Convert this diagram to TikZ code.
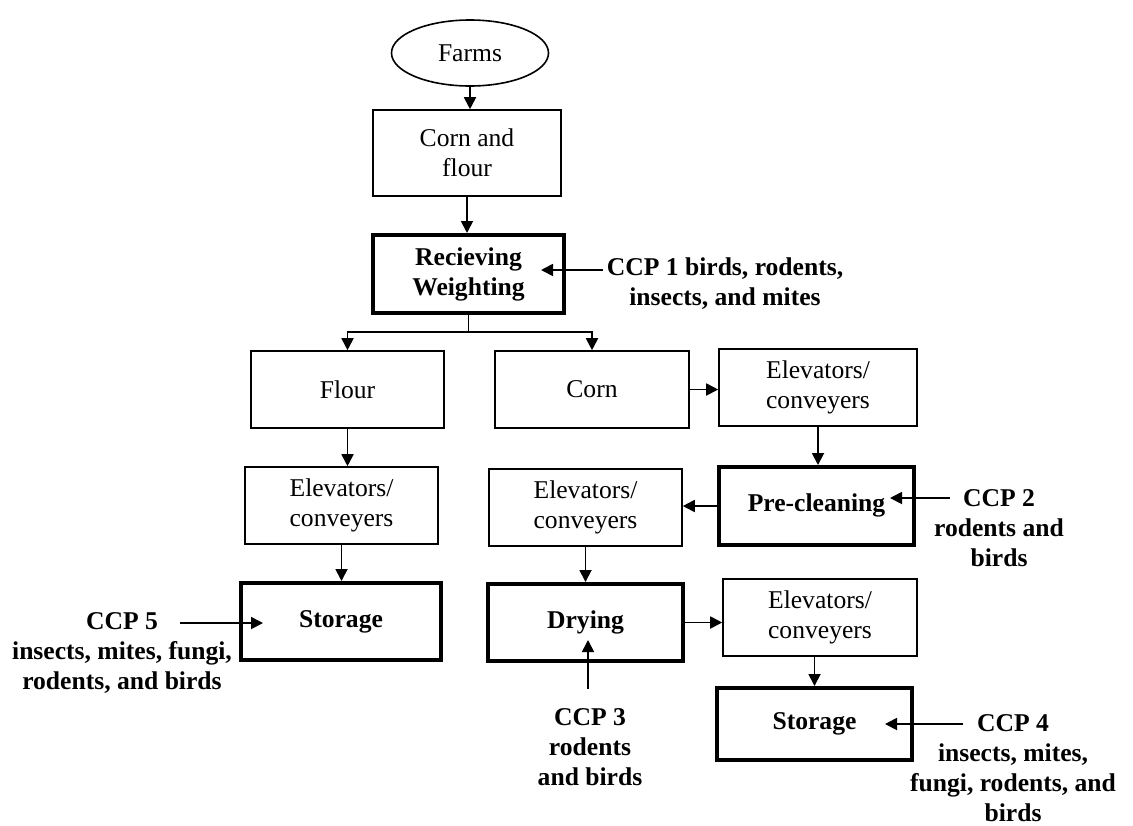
\documentclass[tikz,border=0pt]{standalone}
\usepackage{fontspec}
\setmainfont{Liberation Serif}
\usetikzlibrary{arrows.meta,shapes.geometric}
\newcommand\regf{\fontsize{12.8}{15}\selectfont}
\begin{document}
\begin{tikzpicture}[x=0.5pt,y=-0.5pt,
  bx/.style 2 args={draw,line width=0.8pt,minimum width=#1,minimum height=#2,inner sep=0pt,align=center,font=\regf},
  tbx/.style 2 args={draw,line width=2pt,minimum width=#1,minimum height=#2,inner sep=0pt,align=center,font=\regf\bfseries},
  ell/.style={draw,ellipse,line width=0.8pt,minimum width=78.5pt,minimum height=33pt,inner sep=0pt,font=\regf},
  arr/.style={-{Triangle[length=6pt,width=6pt]},line width=0.9pt},
  ln/.style={line width=0.9pt},
  ccp/.style={align=center,font=\regf\bfseries,inner sep=0pt}]
\useasboundingbox (0,0) rectangle (1133,825);
% nodes
\node[ell] (farms) at (470,53) {Farms};
\node[bx={94pt}{43pt}] (cf) at (467,153) {Corn and\\flour};
\node[tbx={95.5pt}{39pt}] (recv) at (468.5,274) {Recieving\\Weighting};
\node[bx={96.5pt}{38.5pt}] (flour) at (347.5,389.5) {Flour};
\node[bx={97pt}{38.5pt}] (corn) at (592,389.5) {Corn};
\node[bx={99pt}{38.5pt}] (el1) at (818,387.5) {Elevators/\\conveyers};
\node[tbx={97.5pt}{39pt}] (pre) at (816.5,506) {\raisebox{3pt}{Pre-cleaning}};
\node[bx={96.5pt}{38.5pt}] (el2) at (585.5,507.5) {Elevators/\\conveyers};
\node[bx={96.5pt}{38.5pt}] (elf) at (341.5,505.5) {Elevators/\\conveyers};
\node[tbx={100pt}{38.5pt}] (stl) at (341,621.5) {Storage};
\node[tbx={97.5pt}{38.5pt}] (dry) at (585.5,622.5) {Drying};
\node[bx={97pt}{38.5pt}] (el3) at (820,617.5) {Elevators/\\conveyers};
\node[tbx={97.5pt}{36pt}] (str) at (814.5,724) {Storage};
% CCP labels
\node[ccp] (ccp1) at (725,284) {CCP 1 birds, rodents,\\insects, and mites};
\node[ccp] (ccp2) at (999,528) {CCP 2\\rodents and\\birds};
\node[ccp] (ccp3) at (590,747) {CCP 3\\rodents\\and birds};
\node[ccp] (ccp4) at (1013,768) {CCP 4\\insects, mites,\\fungi, rodents, and\\birds};
\node[ccp] (ccp5) at (122,653) {CCP 5\\insects, mites, fungi,\\rodents, and birds};
% connectors
\draw[arr] (farms.south) -- (farms.south |- cf.north);
\draw[arr] (cf.south) -- (cf.south |- recv.north);
\coordinate (sp) at (470,332);
\draw[ln] (recv.south) -- (recv.south |- sp);
\draw[arr] (recv.south |- sp) -| (flour.north);
\draw[arr] (recv.south |- sp) -| (corn.north);
\draw[arr] (corn.east) -- (corn.east -| el1.west);
\draw[arr] (el1.south) -- (el1.south |- pre.north);
\draw[arr] (pre.west) -- (pre.west -| el2.east);
\draw[arr] (el2.south) -- (dry.north);
\draw[arr] (flour.south) -- (flour.south |- elf.north);
\draw[arr] (elf.south) -- (elf.south |- stl.north);
\draw[arr] (dry.east) -- (dry.east -| el3.west);
\draw[arr] (str.north |- el3.south) -- (str.north);
% CCP arrows
\coordinate (c1s) at (603,270); \coordinate (c1e) at (541,270);
\coordinate (c2s) at (950,498); \coordinate (c2e) at (890,498);
\coordinate (c3s) at (588,689); \coordinate (c3e) at (588,640);
\coordinate (c4s) at (963,724); \coordinate (c4e) at (885,724);
\coordinate (c5s) at (180,623); \coordinate (c5e) at (263,623);
\draw[arr] (c1s) -- (c1e);
\draw[arr] (c2s) -- (c2e);
\draw[arr] (c3s) -- (c3e);
\draw[arr] (c4s) -- (c4e);
\draw[arr] (c5s) -- (c5e);
\end{tikzpicture}
\end{document}
